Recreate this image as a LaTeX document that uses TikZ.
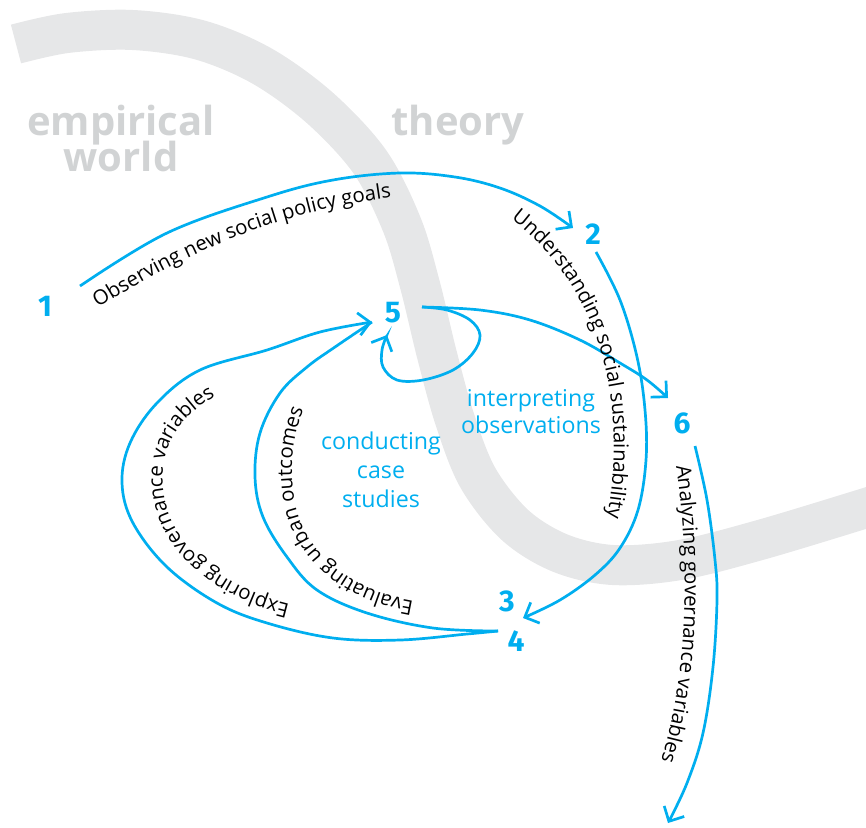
\documentclass[tikz,border=0pt]{standalone}
\usepackage{fontspec}
\setmainfont{Open Sans}
\newfontfamily\numfont{Fira Sans}
\usetikzlibrary{arrows.meta,decorations.text}
\definecolor{cy}{HTML}{00AEEF}
\definecolor{bandgray}{HTML}{E6E7E8}
\definecolor{txtgray}{HTML}{D1D3D4}
\newcommand\labfont{\fontsize{10.2}{11}\selectfont}
\begin{document}
\begin{tikzpicture}[x=0.5pt,y=0.5pt,
  bandstyle/.style={draw=bandgray,line width=20pt},
  graylabel/.style={text=txtgray,font=\fontsize{20}{20}\selectfont\bfseries,inner sep=0pt,anchor=base},
  numlabel/.style={text=cy,font=\numfont\fontsize{15}{15}\selectfont\bfseries,inner sep=0pt},
  bluelabel/.style={text=cy,font=\fontsize{11.6}{12}\selectfont,inner sep=0pt,anchor=base},
  arrowline/.style={draw=cy,line width=1.35pt,-{Straight Barb[length=5.7pt,width=11.3pt]}},
  plainline/.style={draw=cy,line width=1.35pt},
  curvedtext/.style={decorate,decoration={text along path,text align=left,text={|\labfont|#1}}}]
\useasboundingbox (0,0) rectangle (866,-827);
% background band
\draw[bandstyle] plot[smooth,tension=0.55] coordinates {(16,-44) (67,-33) (133,-30) (200,-40) (262,-66) (320,-108) (370,-162) (402,-225) (420,-285) (437,-355) (455,-420) (478,-478) (515,-525) (560,-553) (613,-565) (680,-560) (760,-540) (866,-508) (900,-497)};
% gray labels
\node[graylabel] (emp) at (121,-135) {empirical};
\node[graylabel] (wor) at (121,-171) {world};
\node[graylabel] (the) at (458,-135) {theory};
% numbers
\node[numlabel] (n1) at (45,-306) {1};
\node[numlabel] (n2) at (593,-234) {2};
\node[numlabel] (n3) at (507,-601) {3};
\node[numlabel] (n4) at (516,-641) {4};
\node[numlabel] (n5) at (393,-313) {5};
\node[numlabel] (n6) at (682,-423) {6};
% blue labels
\node[bluelabel] (ip1) at (531,-406) {interpreting};
\node[bluelabel] (ip2) at (531,-433) {observations};
\node[bluelabel] (cs1) at (381,-449) {conducting};
\node[bluelabel] (cs2) at (381,-478) {case};
\node[bluelabel] (cs3) at (381,-507) {studies};
% connector end points
\coordinate (s12) at (80,-286);
\coordinate (e12) at (573,-228);
\coordinate (s23) at (596,-252);
\coordinate (e23) at (523,-618);
\coordinate (s45) at (498,-631);
\coordinate (e45) at (372,-322);
\coordinate (s5) at (422,-307);
\coordinate (e55) at (387,-335);
\coordinate (e56) at (668,-398);
\coordinate (s6) at (695,-446);
\coordinate (e6) at (668,-823);
% connectors
\draw[arrowline] plot[smooth,tension=0.6] coordinates {(s12) (167,-233) (267,-197) (333,-180) (400,-173) (455,-177) (500,-188) (540,-206) (e12)};
\draw[arrowline] plot[smooth,tension=0.6] coordinates {(s23) (620,-300) (637,-357) (645,-410) (646,-460) (638,-510) (620,-548) (595,-575) (560,-600) (e23)};
\draw[arrowline] plot[smooth,tension=0.6] coordinates {(s5) (480,-310) (530,-320) (580,-340) (620,-363) (647,-380) (e56)};
\draw[arrowline] plot[smooth,tension=0.6] coordinates {(s5) (447,-310) (470,-320) (480,-335) (473,-353) (453,-370) (423,-380) (397,-380) (383,-367) (382,-350) (e55)};
\draw[arrowline] plot[smooth,tension=0.6] coordinates {(s6) (707,-500) (715,-560) (717,-600) (713,-667) (703,-733) (687,-783) (e6)};
\draw[arrowline] plot[smooth,tension=0.6] coordinates {(s45) (467,-634) (400,-640) (333,-638) (267,-623) (217,-603) (167,-567) (133,-523) (122,-483) (130,-443) (157,-403) (200,-370) (267,-350) (320,-332) (e45)};
\draw[plainline] plot[smooth,tension=0.6] coordinates {(s45) (433,-628) (367,-613) (317,-590) (287,-557) (263,-517) (255,-477) (260,-433) (280,-393) (307,-367) (335,-347) (e45)};
% curved labels
\path[curvedtext={Observing new social policy goals}] (98,-308) .. controls (200,-245) and (300,-200) .. (450,-192);
\path[curvedtext={Understanding social sustainability}] (511,-219) .. controls (585,-275) and (635,-380) .. (605,-530) .. controls (600,-560) and (590,-580) .. (575,-600);
\path[curvedtext={Analyzing governance variables}] (676,-466) .. controls (690,-560) and (690,-680) .. (655,-780) .. controls (645,-810) and (635,-830) .. (625,-850);
\path[curvedtext={Exploring governance variables}] (290,-604) .. controls (230,-590) and (168,-550) .. (163,-487) .. controls (158,-430) and (200,-395) .. (260,-378);
\path[curvedtext={Evaluating urban outcomes}] (414,-601) .. controls (360,-592) and (300,-560) .. (293,-490) .. controls (288,-440) and (300,-400) .. (340,-350);
\end{tikzpicture}
\end{document}
